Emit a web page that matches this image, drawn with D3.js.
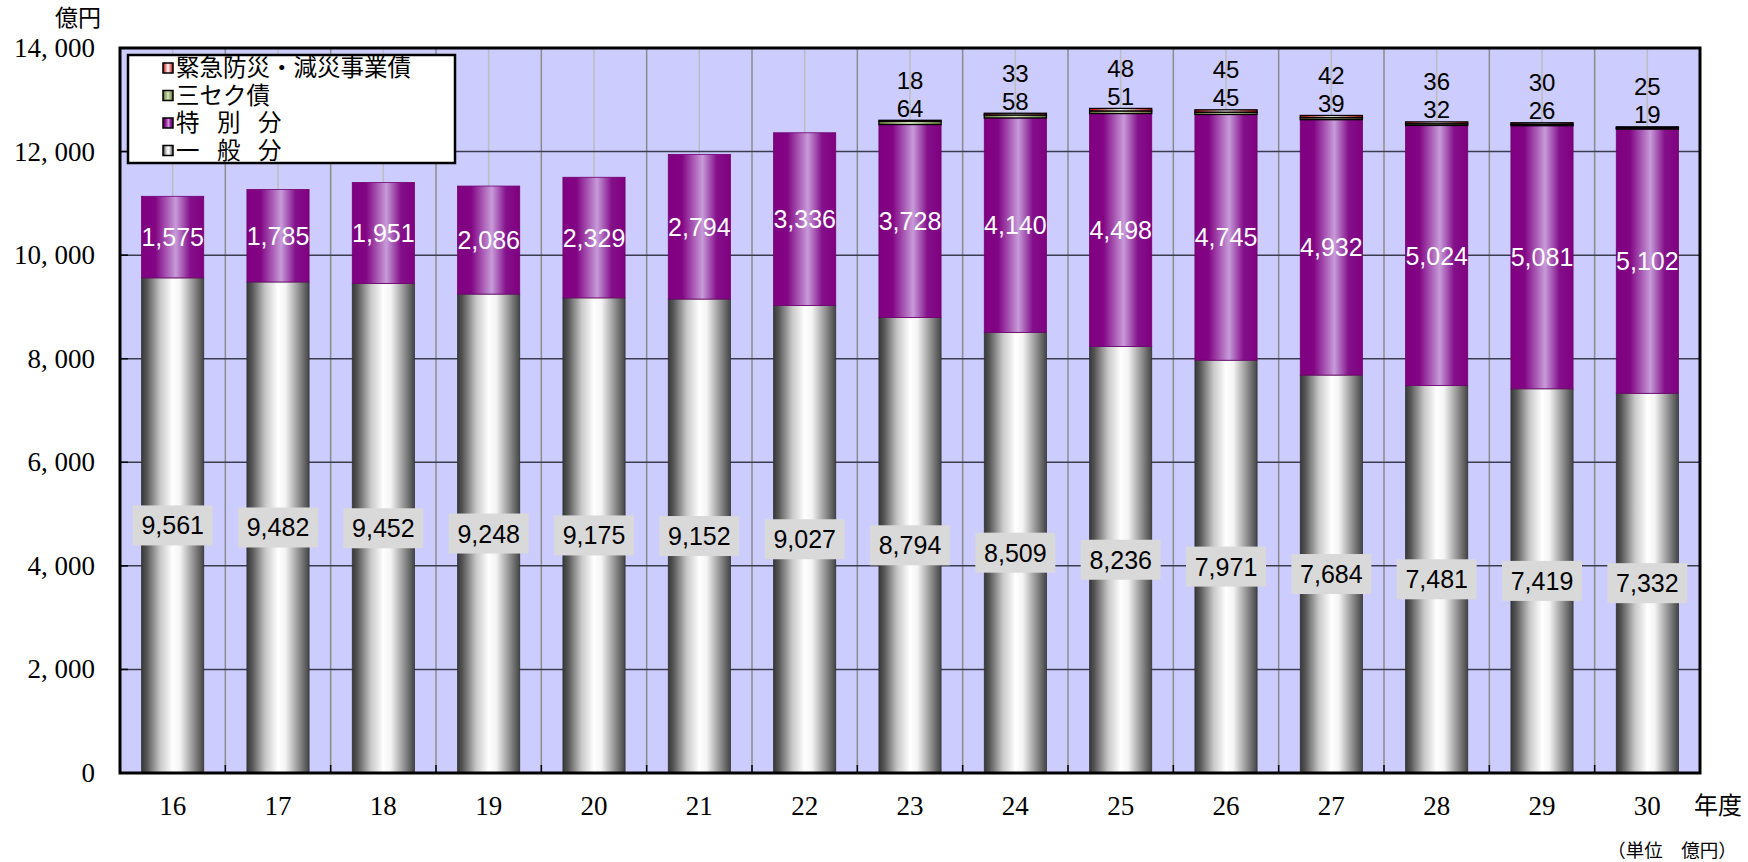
<!DOCTYPE html>
<html>
<head>
<meta charset="utf-8">
<script src="https://cdn.jsdelivr.net/npm/d3@7"></script>
<style>
	body { margin: 0; background: #ffffff; }
	svg { display: block; }
</style>
</head>
<body>
<div id="chart"></div>
<script>
// Fiscal years (Heisei)
const years = ["16", "17", "18", "19", "20", "21", "22", "23", "24", "25", "26", "27", "28", "29", "30"];

// 一般分
const generalPart = [9561, 9482, 9452, 9248, 9175, 9152, 9027, 8794, 8509, 8236, 7971, 7684, 7481, 7419, 7332];
// 特別分
const specialPart = [1575, 1785, 1951, 2086, 2329, 2794, 3336, 3728, 4140, 4498, 4745, 4932, 5024, 5081, 5102];
// 三セク債
const thirdSectorBonds = [0, 0, 0, 0, 0, 0, 0, 64, 58, 51, 45, 39, 32, 26, 19];
// 緊急防災・減災事業債
const disasterBonds = [0, 0, 0, 0, 0, 0, 0, 18, 33, 48, 45, 42, 36, 30, 25];

const yTicks = [0, 2000, 4000, 6000, 8000, 10000, 12000, 14000];

const seriesKeys = ["general", "special", "sanseku", "kinkyu"];
const legendLabels = ["緊急防災・減災事業債", "三セク債", "特 別 分", "一 般 分"];
const legendKeys = ["kinkyu", "sanseku", "special", "general"];

const width = 1748, height = 862;
const plot = { left: 120, right: 1700, top: 48, bottom: 773 };

const rows = years.map((year, i) => ({
	year: year,
	general: generalPart[i],
	special: specialPart[i],
	sanseku: thirdSectorBonds[i],
	kinkyu: disasterBonds[i]
}));

const svg = d3.select("#chart").append("svg")
	.attr("width", width)
	.attr("height", height);

// Gradients for the cylinder-like bars
const defs = svg.append("defs");
function addGradient(id, stops) {
	let g = defs.append("linearGradient").attr("id", id)
		.attr("x1", "0%").attr("x2", "100%").attr("y1", "0%").attr("y2", "0%");
	stops.forEach(s => g.append("stop").attr("offset", s[0]).attr("stop-color", s[1]));
}
addGradient("grad-general", [["0%", "#383838"], ["8%", "#555555"], ["30%", "#c8c8c8"], ["50%", "#ffffff"], ["62%", "#f4f4f4"], ["85%", "#8a8a8a"], ["100%", "#454545"]]);
addGradient("grad-special", [["0%", "#800080"], ["22%", "#820584"], ["55%", "#c79bd9"], ["78%", "#84108a"], ["100%", "#800080"]]);
addGradient("grad-sanseku", [["0%", "#5d7030"], ["50%", "#d8e4bc"], ["100%", "#5d7030"]]);
addGradient("grad-kinkyu", [["0%", "#c00000"], ["50%", "#ffffff"], ["100%", "#c00000"]]);

const fills = {
	general: "url(#grad-general)",
	special: "url(#grad-special)",
	sanseku: "url(#grad-sanseku)",
	kinkyu: "url(#grad-kinkyu)"
};

// Scales
const x = d3.scaleBand()
	.domain(years)
	.range([plot.left, plot.right])
	.paddingInner(0.41)
	.paddingOuter(0.205);

const y = d3.scaleLinear()
	.domain([0, 14000])
	.range([plot.bottom, plot.top]);

const step = x.step();
const bandStart = (i) => plot.left + i * step;

// Plot background
svg.append("rect")
	.attr("x", plot.left).attr("y", plot.top)
	.attr("width", plot.right - plot.left).attr("height", plot.bottom - plot.top)
	.attr("fill", "#ccccff");

// Light lines through band centers
svg.append("g").selectAll("line")
	.data(years)
	.join("line")
	.attr("x1", d => x(d) + x.bandwidth() / 2)
	.attr("x2", d => x(d) + x.bandwidth() / 2)
	.attr("y1", plot.top).attr("y2", plot.bottom)
	.attr("stroke", "#bdbdbd").attr("stroke-width", 1.5);

// Band boundary lines
svg.append("g").selectAll("line")
	.data(d3.range(1, years.length))
	.join("line")
	.attr("x1", i => bandStart(i)).attr("x2", i => bandStart(i))
	.attr("y1", plot.top).attr("y2", plot.bottom)
	.attr("stroke", "#8c8c8c").attr("stroke-width", 1.5);

// Horizontal grid
svg.append("g").selectAll("line")
	.data(yTicks.slice(1, -1))
	.join("line")
	.attr("x1", plot.left).attr("x2", plot.right)
	.attr("y1", d => y(d)).attr("y2", d => y(d))
	.attr("stroke", "#3c3c50").attr("stroke-width", 1.5);

// Stacked bars
const stack = d3.stack().keys(seriesKeys);
const stacked = stack(rows);

svg.append("g").selectAll("g")
	.data(stacked)
	.join("g")
	.each(function (layer) {
		let key = layer.key;
		let small = key === "sanseku" || key === "kinkyu";
		d3.select(this).selectAll("rect")
			.data(layer.filter(d => d[1] - d[0] > 0))
			.join("rect")
			.attr("x", d => x(d.data.year))
			.attr("width", x.bandwidth())
			.attr("y", d => y(d[1]))
			.attr("height", d => Math.max(y(d[0]) - y(d[1]), 0))
			.attr("fill", fills[key])
			.attr("stroke", small ? "#000000" : (key === "special" ? "#700070" : "#333333"))
			.attr("stroke-width", small ? 1.3 : 0.8);
	});

// Labels for 一般分 (boxed)
const generalLayer = stacked[0];
const generalLabels = svg.append("g").selectAll("g")
	.data(generalLayer)
	.join("g")
	.attr("transform", d => `translate(${x(d.data.year) + x.bandwidth() / 2}, ${y((d[0] + d[1]) / 2)})`);

generalLabels.append("rect")
	.attr("x", -40).attr("y", -20)
	.attr("width", 80).attr("height", 40)
	.attr("fill", "#d9d9d9");

generalLabels.append("text")
	.attr("text-anchor", "middle")
	.attr("dominant-baseline", "central")
	.attr("font-family", "'Liberation Sans', Arial, sans-serif")
	.attr("font-size", 25)
	.attr("fill", "#000000")
	.text(d => d3.format(",")(d.data.general));

// Labels for 特別分 (white)
svg.append("g").selectAll("text")
	.data(stacked[1])
	.join("text")
	.attr("x", d => x(d.data.year) + x.bandwidth() / 2)
	.attr("y", d => y((d[0] + d[1]) / 2))
	.attr("text-anchor", "middle")
	.attr("dominant-baseline", "central")
	.attr("font-family", "'Liberation Sans', Arial, sans-serif")
	.attr("font-size", 25)
	.attr("fill", "#ffffff")
	.text(d => d3.format(",")(d.data.special));

// Labels for the thin top segments, placed above the bar
const topLabelRows = rows.filter(r => r.sanseku > 0);
const topLabels = svg.append("g")
	.attr("font-family", "'Liberation Sans', Arial, sans-serif")
	.attr("font-size", 24)
	.attr("fill", "#000000")
	.attr("text-anchor", "middle");

topLabels.selectAll("text.sanseku")
	.data(topLabelRows)
	.join("text")
	.attr("class", "sanseku")
	.attr("x", d => x(d.year) + x.bandwidth() / 2)
	.attr("y", d => y(d.general + d.special + d.sanseku + d.kinkyu) - 12)
	.attr("dominant-baseline", "central")
	.text(d => d.sanseku);

topLabels.selectAll("text.kinkyu")
	.data(topLabelRows)
	.join("text")
	.attr("class", "kinkyu")
	.attr("x", d => x(d.year) + x.bandwidth() / 2)
	.attr("y", d => y(d.general + d.special + d.sanseku + d.kinkyu) - 40)
	.attr("dominant-baseline", "central")
	.text(d => d.kinkyu);

// Tick marks (inside the frame)
svg.append("g").selectAll("line")
	.data(d3.range(1, years.length))
	.join("line")
	.attr("x1", i => bandStart(i)).attr("x2", i => bandStart(i))
	.attr("y1", plot.bottom).attr("y2", plot.bottom - 8)
	.attr("stroke", "#000000").attr("stroke-width", 1.5);

svg.append("g").selectAll("line")
	.data(yTicks.slice(1, -1))
	.join("line")
	.attr("x1", plot.left).attr("x2", plot.left + 8)
	.attr("y1", d => y(d)).attr("y2", d => y(d))
	.attr("stroke", "#000000").attr("stroke-width", 1.5);

// Frame
svg.append("rect")
	.attr("x", plot.left).attr("y", plot.top)
	.attr("width", plot.right - plot.left).attr("height", plot.bottom - plot.top)
	.attr("fill", "none")
	.attr("stroke", "#000000").attr("stroke-width", 3);

// Y axis labels
svg.append("g").selectAll("text")
	.data(yTicks)
	.join("text")
	.attr("x", 95)
	.attr("y", d => y(d))
	.attr("text-anchor", "end")
	.attr("dominant-baseline", "central")
	.attr("font-family", "'Liberation Serif', 'Times New Roman', serif")
	.attr("font-size", 27)
	.attr("fill", "#000000")
	.text(d => d3.format(",")(d).replace(",", ", "));

// X axis labels
svg.append("g").selectAll("text")
	.data(years)
	.join("text")
	.attr("x", d => x(d) + x.bandwidth() / 2)
	.attr("y", 806)
	.attr("text-anchor", "middle")
	.attr("dominant-baseline", "central")
	.attr("font-family", "'Liberation Serif', 'Times New Roman', serif")
	.attr("font-size", 27)
	.attr("fill", "#000000")
	.text(d => d);

// Unit captions (Latin font first keeps the line box compact; CJK glyphs fall back to Noto)
const cjkFont = "'Liberation Sans', 'Noto Sans CJK JP', sans-serif";
svg.append("text")
	.attr("x", 78).attr("y", 18)
	.attr("text-anchor", "middle").attr("dominant-baseline", "central")
	.attr("font-family", cjkFont).attr("font-size", 23)
	.text("億円");

svg.append("text")
	.attr("x", 1718).attr("y", 805)
	.attr("text-anchor", "middle").attr("dominant-baseline", "central")
	.attr("font-family", cjkFont).attr("font-size", 24)
	.text("年度");

svg.append("text")
	.attr("x", 1672).attr("y", 850)
	.attr("text-anchor", "middle").attr("dominant-baseline", "central")
	.attr("font-family", cjkFont).attr("font-size", 18.5)
	.text("（単位　億円）");

// Legend
const legend = svg.append("g");
legend.append("rect")
	.attr("x", 128).attr("y", 55)
	.attr("width", 327).attr("height", 108)
	.attr("fill", "#ffffff")
	.attr("stroke", "#000000").attr("stroke-width", 2.5);

const legendItems = legend.selectAll("g")
	.data(legendKeys)
	.join("g")
	.attr("transform", (d, i) => `translate(163, ${68 + i * 27.5})`);

legendItems.append("rect")
	.attr("x", 0).attr("y", -5)
	.attr("width", 10).attr("height", 10)
	.attr("fill", d => fills[d])
	.attr("stroke", "#000000").attr("stroke-width", 1.5);

legendItems.append("text")
	.attr("x", 13).attr("y", 0)
	.attr("dominant-baseline", "central")
	.attr("font-family", cjkFont)
	.attr("font-size", 23.5)
	.attr("word-spacing", 11)
	.attr("xml:space", "preserve")
	.text((d, i) => legendLabels[i]);
</script>
</body>
</html>
